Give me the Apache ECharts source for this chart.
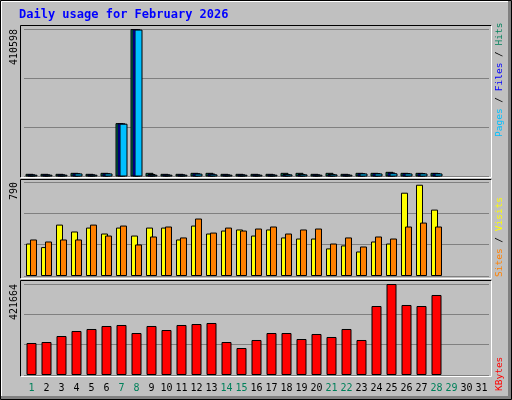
<!DOCTYPE html>
<html><head><meta charset="utf-8">
<script src="https://cdn.jsdelivr.net/npm/echarts@6/dist/echarts.min.js"></script>
<style>html,body{margin:0;padding:0;background:#c0c0c0}#c{width:512px;height:400px}</style>
</head><body><div id="c"></div>
<script>
const days = Array.from({length:31},(_,i)=>String(i+1));
const weekendDays = [1,7,8,14,15,21,22,28,29];
const hits  = [7400,7400,7400,10200,7400,10200,148600,410598,10200,7400,7400,10200,10200,7400,7400,7400,7400,10200,10200,7400,10200,7400,10200,10200,13000,10200,10200,10200];
const files = [6000,6000,6000,9000,6000,9000,148000,410000,7000,6000,6000,9000,8000,6000,6000,6000,6000,7000,7000,6000,7000,6000,9000,9500,11000,9500,9500,9500];
const pages = [5000,5000,5000,8500,5000,8500,147000,409000,5000,5000,5000,8000,6000,5000,5000,5000,5000,6000,6000,5000,6000,5000,8500,8500,9000,8500,8500,8500];
const sites  = [273,243,432,374,407,357,407,340,407,407,307,424,357,382,391,340,391,324,315,315,232,257,206,290,273,700,767,558];
const visits = [307,290,307,307,432,340,424,265,332,416,324,483,365,407,382,399,416,357,391,399,273,324,248,332,315,416,449,416];
const kbytes = [148282,152900,180700,203900,213200,227100,231700,194600,227100,208500,231700,236300,241000,152900,125100,162200,194600,194600,166800,190000,176100,213200,162200,319700,421664,324400,319700,370700];
const maxHits = 410598, maxVisits = 790, maxKB = 421664;

const chart = echarts.init(document.getElementById('c'));
const mono = 'DejaVu Sans Mono';
const grids = [
  {left:24, width:465, top:29, height:147.5},
  {left:24, width:465, top:182, height:94},
  {left:24, width:465, top:284, height:91}
];
const maxes=[maxHits,maxVisits,maxKB];
function xa(i){return {type:'category',gridIndex:i,data:days,axisLine:{show:false},axisTick:{show:false},
  axisLabel:{show:i===2,fontFamily:mono,fontSize:10,margin:8,interval:0,
    color:(v)=>weekendDays.includes(+v)?'#00805a':'#000'}};}
function ya(i){return {type:'value',gridIndex:i,min:0,max:maxes[i],interval:maxes[i]/3,axisLabel:{show:false},
  axisLine:{show:false},axisTick:{show:false},splitLine:{lineStyle:{color:'#808080',width:1}}};}
const bs={borderColor:'#000',borderWidth:1};
function bar(data,i,color,w,gap){return {type:'bar',xAxisIndex:i,yAxisIndex:i,data,barWidth:w,barGap:gap,
  itemStyle:Object.assign({color},bs),animation:false,silent:true};}
function frame(x1,y1,x2,y2){return [
  {type:'line',shape:{x1,y1,x2,y2:y1},style:{stroke:'#000',lineWidth:1}},
  {type:'line',shape:{x1,y1,x2:x1,y2},style:{stroke:'#000',lineWidth:1}},
  {type:'line',shape:{x1,y1:y2,x2,y2},style:{stroke:'#fff',lineWidth:1}},
  {type:'line',shape:{x1:x2,y1,x2,y2},style:{stroke:'#fff',lineWidth:1}}];}
function vtext(x,y,align,rich,text,size){return {type:'text',x,y,rotation:Math.PI/2,
  style:{text,rich,align,verticalAlign:'middle',font:size+'px '+mono,fill:'#000'}};}
chart.setOption({
  backgroundColor:'#c0c0c0',
  animation:false,
  grid:grids,
  xAxis:[xa(0),xa(1),xa(2)],
  yAxis:[ya(0),ya(1),ya(2)],
  series:[
    bar(hits,0,'#00805a',8,'-75%'),
    bar(files,0,'#0000ff',8,'-75%'),
    bar(pages,0,'#00c0ff',8,'-75%'),
    bar(sites,1,'#ffff00',7,'-43%'),
    bar(visits,1,'#ff8000',7,'-43%'),
    bar(kbytes,2,'#ff0000',10,'0%')
  ],
  graphic:[
    {type:'rect',shape:{x:0.5,y:0.5,width:511,height:399},style:{fill:null,stroke:'#000',lineWidth:1}},
    {type:'line',shape:{x1:1.5,y1:1.5,x2:508,y2:1.5},style:{stroke:'#fff',lineWidth:1}},
    {type:'line',shape:{x1:1.5,y1:1.5,x2:1.5,y2:397},style:{stroke:'#fff',lineWidth:1}},
    {type:'rect',shape:{x:508,y:1,width:3,height:398},style:{fill:'#808080'}},
    {type:'rect',shape:{x:1,y:396,width:510,height:3},style:{fill:'#808080'}},
    ...frame(20.5,25.5,491.5,177.5),
    ...frame(20.5,179.5,491.5,278.5),
    ...frame(20.5,280.5,491.5,376.5),
    {type:'text',x:19,y:15,style:{text:'Daily usage for February 2026',font:'bold 12px '+mono,fill:'#0000ff',verticalAlign:'middle'}},
    vtext(14,29,'right',null,String(maxHits),10),
    vtext(14,182,'right',null,String(maxVisits),10),
    vtext(14,284,'right',null,String(maxKB),10),
    vtext(500,137,'left',{p:{fill:'#00c0ff'},f:{fill:'#0000ff'},h:{fill:'#00805a'},s:{fill:'#000'}},'{p|Pages}{s| / }{f|Files}{s| / }{h|Hits}',9.5),
    vtext(500,277,'left',{a:{fill:'#ff8000'},b:{fill:'#ffff00'},s:{fill:'#000'}},'{a|Sites}{s| / }{b|Visits}',9.5),
    vtext(500,391,'left',{k:{fill:'#ff0000'}},'{k|KBytes}',9.5)
  ]
});
</script></body></html>
